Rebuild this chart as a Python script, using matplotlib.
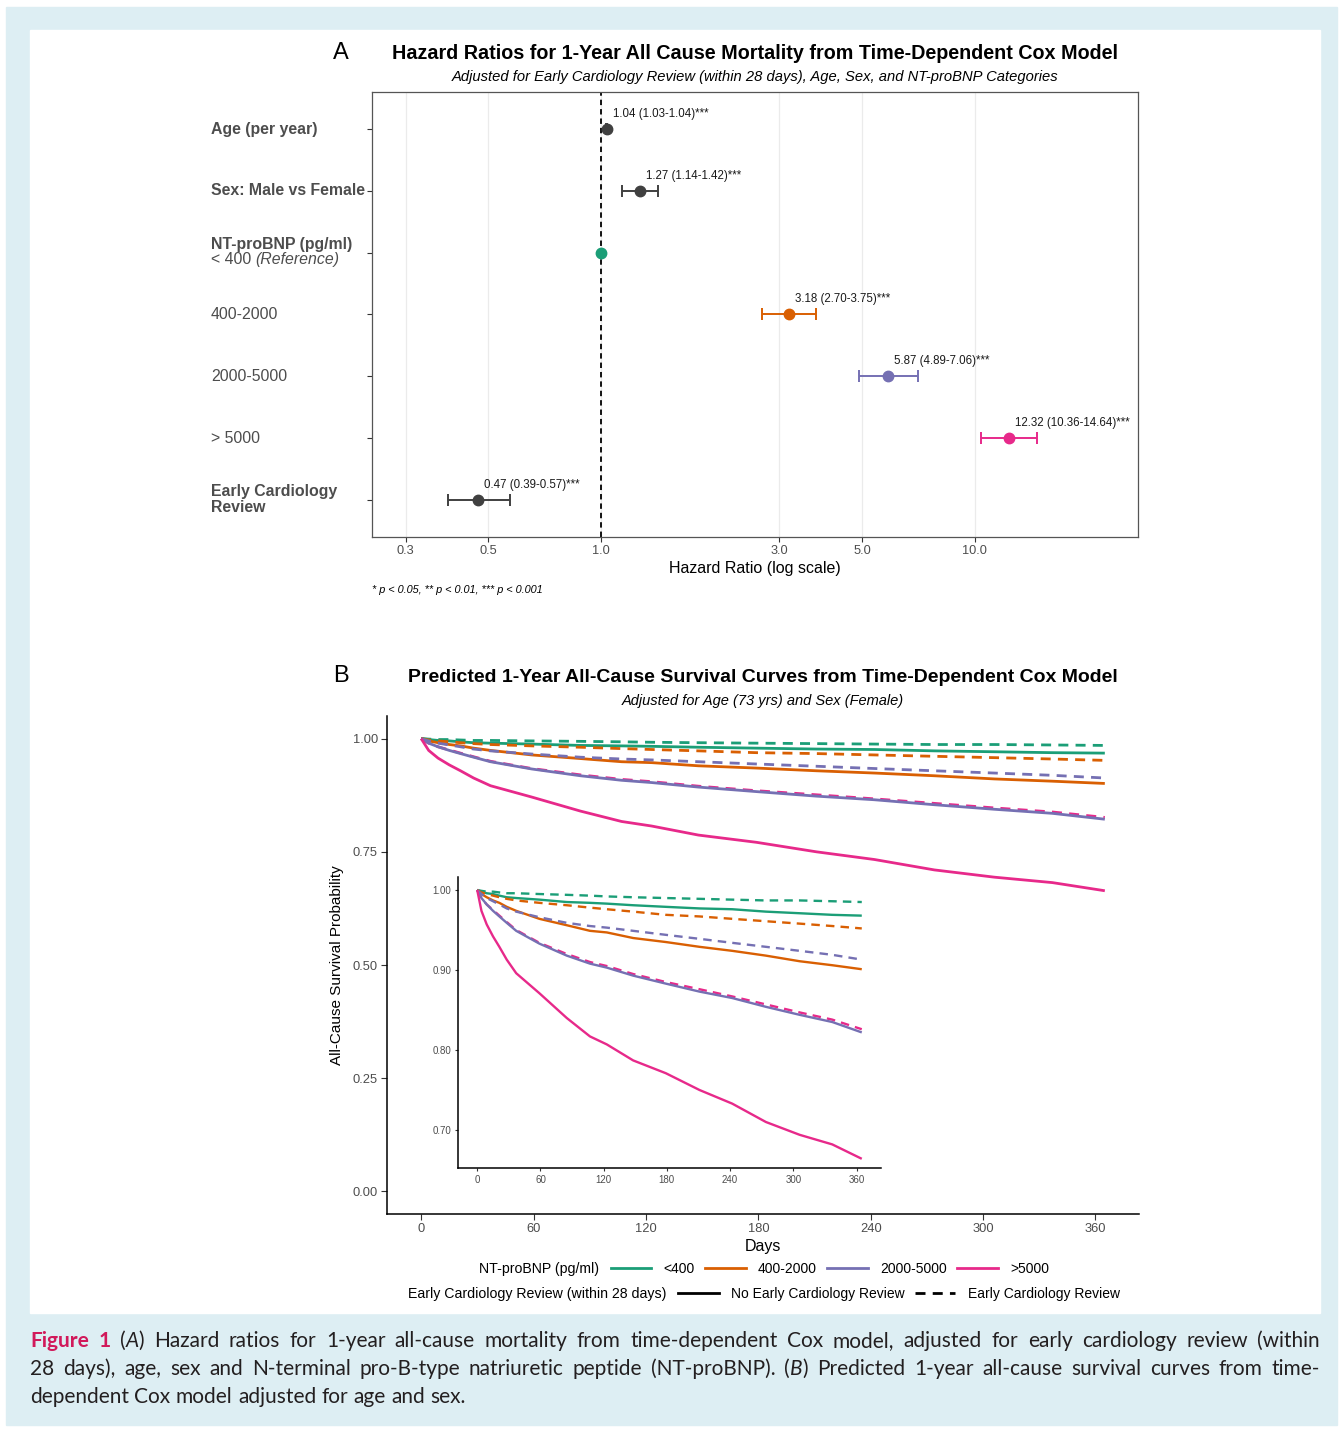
import numpy as np
import matplotlib
matplotlib.use('Agg')
import matplotlib.pyplot as plt
import matplotlib.transforms as mtransforms
from matplotlib.lines import Line2D
from matplotlib.patches import Rectangle

W, H = 1343, 1430
plt.rcParams['font.family'] = ['Liberation Sans', 'DejaVu Sans']

# ---- Panel A: hazard ratios ----
row_labels = ['Age (per year)', 'Sex: Male vs Female', 'NT-proBNP (pg/ml)\n< 400',
              '400-2000', '2000-5000', '> 5000', 'Early Cardiology\nReview']
hr_est = [1.04, 1.27, 1.00, 3.18, 5.87, 12.32, 0.47]
hr_low = [1.03, 1.14, 1.00, 2.70, 4.89, 10.36, 0.39]
hr_high = [1.04, 1.42, 1.00, 3.75, 7.06, 14.64, 0.57]
hr_text = ['1.04 (1.03-1.04)***', '1.27 (1.14-1.42)***', '', '3.18 (2.70-3.75)***',
           '5.87 (4.89-7.06)***', '12.32 (10.36-14.64)***', '0.47 (0.39-0.57)***']
hr_ticks = [0.3, 0.5, 1.0, 3.0, 5.0, 10.0]

# ---- Panel B: predicted survival ----
days = [0, 4, 9, 15, 21, 28, 37, 59, 85, 107, 123, 148, 179, 211, 242, 274, 306, 337, 365]
surv = {
    ('<400', 'no'):      [1.0, 0.998, 0.996, 0.995, 0.993, 0.991, 0.990, 0.988, 0.985, 0.984, 0.983, 0.981, 0.979, 0.977, 0.976, 0.973, 0.971, 0.969, 0.968],
    ('<400', 'yes'):     [1.0, 0.999, 0.998, 0.998, 0.997, 0.996, 0.996, 0.995, 0.994, 0.993, 0.992, 0.991, 0.990, 0.989, 0.988, 0.987, 0.987, 0.986, 0.985],
    ('400-2000', 'no'):  [1.0, 0.995, 0.991, 0.987, 0.984, 0.979, 0.974, 0.964, 0.956, 0.949, 0.947, 0.940, 0.935, 0.929, 0.924, 0.918, 0.911, 0.906, 0.901],
    ('400-2000', 'yes'): [1.0, 0.997, 0.995, 0.993, 0.991, 0.989, 0.987, 0.984, 0.981, 0.978, 0.976, 0.973, 0.969, 0.967, 0.964, 0.961, 0.958, 0.955, 0.952],
    ('2000-5000', 'no'): [1.0, 0.990, 0.982, 0.974, 0.967, 0.959, 0.949, 0.933, 0.918, 0.908, 0.903, 0.893, 0.883, 0.873, 0.865, 0.854, 0.844, 0.835, 0.822],
    ('2000-5000', 'yes'):[1.0, 0.995, 0.990, 0.986, 0.982, 0.977, 0.973, 0.966, 0.959, 0.955, 0.953, 0.949, 0.944, 0.939, 0.934, 0.929, 0.924, 0.919, 0.913],
    ('>5000', 'no'):     [1.0, 0.974, 0.957, 0.942, 0.929, 0.913, 0.896, 0.871, 0.840, 0.817, 0.807, 0.787, 0.771, 0.750, 0.733, 0.710, 0.694, 0.682, 0.664],
    ('>5000', 'yes'):    [1.0, 0.990, 0.982, 0.975, 0.968, 0.960, 0.950, 0.934, 0.920, 0.910, 0.905, 0.895, 0.885, 0.876, 0.867, 0.857, 0.847, 0.838, 0.826],
}
bnp_groups = ['<400', '400-2000', '2000-5000', '>5000']
review_labels = ['No Early Cardiology Review', 'Early Cardiology Review']

bnp_colors = {'<400': '#1B9E77', '400-2000': '#D95F02', '2000-5000': '#7570B3', '>5000': '#E7298A'}
term_colors = ['#404040', '#404040', '#1B9E77', '#D95F02', '#7570B3', '#E7298A', '#404040']
DASH = (0, (3.6, 2.6))
GREY = '#4D4D4D'


def fx(px):
    return px / W


def fy(py):
    return 1 - py / H


fig = plt.figure(figsize=(W / 100, H / 100), dpi=100)
fig.patches.append(Rectangle((fx(6), fy(1425)), fx(1337) - fx(6), fy(7) - fy(1425),
                             transform=fig.transFigure, color='#DDEEF3', zorder=-10))
fig.patches.append(Rectangle((fx(30), fy(1313)), fx(1320) - fx(30), fy(30) - fy(1313),
                             transform=fig.transFigure, color='white', zorder=-9))
renderer = fig.canvas.get_renderer()
ident = mtransforms.IdentityTransform()

# ================= Panel A =================
axA = fig.add_axes([fx(372), fy(537), (1138 - 372) / W, (537 - 92) / H])
axA.set_xscale('log')
axA.set_xlim(0.244, 27.3)
ypos = np.arange(len(row_labels), 0, -1)
axA.set_ylim(0.4, len(row_labels) + 0.6)
for t in hr_ticks:
    axA.axvline(t, color='#EBEBEB', lw=0.9, zorder=0)
axA.axvline(1.0, color='black', ls=(0, (3, 2.2)), lw=1.3, zorder=1)

for i in range(len(row_labels)):
    c = term_colors[i]
    if hr_high[i] > hr_low[i]:
        axA.errorbar(hr_est[i], ypos[i],
                     xerr=[[hr_est[i] - hr_low[i]], [hr_high[i] - hr_est[i]]],
                     fmt='none', ecolor=c, elinewidth=1.4, capsize=4.5, capthick=1.4, zorder=2)
    axA.plot(hr_est[i], ypos[i], 'o', color=c, ms=7.5, zorder=3)
    if hr_text[i]:
        axA.annotate(hr_text[i], (hr_est[i], ypos[i]), xytext=(4.2, 6.5),
                     textcoords='offset points', ha='left', va='bottom',
                     fontsize=8.3, color='#1A1A1A')

axA.set_xticks(hr_ticks)
axA.set_xticklabels(['%.1f' % t for t in hr_ticks])
axA.minorticks_off()
axA.set_yticks(ypos)
axA.set_yticklabels([''] * len(ypos))
axA.tick_params(axis='both', length=3.5, width=0.8, color='#333333', labelcolor=GREY,
                labelsize=9.2, pad=2.5)
for s in axA.spines.values():
    s.set_color('#555555')
    s.set_linewidth(0.9)
axA.set_xlabel('Hazard Ratio (log scale)', fontsize=11.5, labelpad=3)

# row labels, left aligned outside the panel
ytr = axA.get_yaxis_transform()
lab_x = (211 - 372) / (1138 - 372)
for i, lab in enumerate(row_labels):
    lines = lab.split('\n')
    offs = [0.0] if len(lines) == 1 else [0.135, -0.115]
    for j, (ln, off) in enumerate(zip(lines, offs)):
        bold = i in (0, 1, 6) or (i == 2 and j == 0)
        t = axA.text(lab_x, ypos[i] + off, ln, transform=ytr, ha='left', va='center',
                     fontsize=11.4, color=GREY, fontweight='bold' if bold else 'normal')
        if i == 2 and j == 1:
            axA.annotate('(Reference)', xy=(1, 0.5), xycoords=t, xytext=(3, 0),
                         textcoords='offset points', ha='left', va='center',
                         fontsize=11.4, color=GREY, style='italic')

fig.text(fx(333), fy(59), 'A', fontsize=17, ha='left', va='baseline')
fig.text(fx(755), fy(59), 'Hazard Ratios for 1-Year All Cause Mortality from Time-Dependent Cox Model',
         fontsize=14.2, fontweight='bold', ha='center', va='baseline')
fig.text(fx(755), fy(81), 'Adjusted for Early Cardiology Review (within 28 days), Age, Sex, and NT-proBNP Categories',
         fontsize=10.6, style='italic', ha='center', va='baseline')
fig.text(fx(372), fy(593), '* p < 0.05, ** p < 0.01, *** p < 0.001',
         fontsize=7.8, style='italic', ha='left', va='baseline')

# ================= Panel B =================
axB = fig.add_axes([fx(387), fy(1214), (1139 - 387) / W, (1214 - 716) / H])
axIn = fig.add_axes([fx(458), fy(1168), (881 - 458) / W, (1168 - 877) / H])


def draw_curves(ax, lw):
    order = [('<400', 'no'), ('<400', 'yes'), ('400-2000', 'no'), ('400-2000', 'yes'),
             ('>5000', 'yes'), ('2000-5000', 'no'), ('2000-5000', 'yes'), ('>5000', 'no')]
    for g, r in order:
        ax.plot(days, surv[(g, r)], color=bnp_colors[g], lw=lw,
                ls=DASH if r == 'yes' else '-', solid_capstyle='butt')


draw_curves(axB, 2.0)
axB.set_xlim(-18.25, 383.25)
axB.set_ylim(-0.05, 1.05)
axB.set_xticks(range(0, 361, 60))
axB.set_yticks([0, 0.25, 0.5, 0.75, 1.0])
axB.set_yticklabels(['0.00', '0.25', '0.50', '0.75', '1.00'])
axB.set_xlabel('Days', fontsize=11.5, labelpad=3)
axB.set_ylabel('All-Cause Survival Probability', fontsize=11, labelpad=6)

draw_curves(axIn, 1.7)
axIn.set_xlim(-18.25, 383.25)
axIn.set_ylim(0.6525, 1.0163)
axIn.set_xticks(range(0, 361, 60))
axIn.set_yticks([0.7, 0.8, 0.9, 1.0])
axIn.set_yticklabels(['0.70', '0.80', '0.90', '1.00'])
axIn.set_facecolor('none')

for ax, sz, ln in ((axB, 9.3, 4), (axIn, 7, 2.5)):
    ax.spines['top'].set_visible(False)
    ax.spines['right'].set_visible(False)
    for s in ('left', 'bottom'):
        ax.spines[s].set_linewidth(1.1)
        ax.spines[s].set_color('black')
    ax.tick_params(length=ln, width=0.8, color='#333333', labelcolor=GREY,
                   labelsize=sz, pad=2.5)

fig.text(fx(333), fy(682), 'B', fontsize=17, ha='left', va='baseline')
fig.text(fx(763), fy(682), 'Predicted 1-Year All-Cause Survival Curves from Time-Dependent Cox Model',
         fontsize=14.0, fontweight='bold', ha='center', va='baseline')
fig.text(fx(763), fy(705), 'Adjusted for Age (73 yrs) and Sex (Female)',
         fontsize=10.5, style='italic', ha='center', va='baseline')


# legend rows: title text on the left, keys to its right, row centred
def side_legend(handles, labels, title, ypix, sep=12):
    leg = fig.legend(handles, labels, ncol=len(handles), loc='center left',
                     bbox_to_anchor=(0, fy(ypix)), frameon=False,
                     fontsize=10, handlelength=2.9, handletextpad=0.9,
                     columnspacing=0.75, borderpad=0, borderaxespad=0)
    tt = fig.text(0, fy(ypix), title, fontsize=10.2, ha='left', va='center')
    wl = leg.get_window_extent(renderer).width
    wt = tt.get_window_extent(renderer).width
    x0 = 764 - (wt + sep + wl) / 2
    tt.set_x(fx(x0))
    leg.set_bbox_to_anchor((fx(x0 + wt + sep), fy(ypix)), transform=fig.transFigure)
    return leg


side_legend([Line2D([], [], color=bnp_colors[g], lw=2) for g in bnp_groups],
            bnp_groups, 'NT-proBNP (pg/ml)', 1269)
side_legend([Line2D([], [], color='black', lw=2, ls='-'),
             Line2D([], [], color='black', lw=2, ls=DASH)],
            review_labels, 'Early Cardiology Review (within 28 days)', 1294)

# ================= Caption =================
CAP_FONT = ['Lato', 'DejaVu Sans']
CAP_SIZE = 15
RED = '#D1195A'
INK = '#231F20'


def seg(txt, **kw):
    return (txt, kw)


cap_lines = [
    [[seg('Figure', color=RED, weight='bold')], [seg('1', color=RED, weight='bold')],
     [seg('('), seg('A', style='italic'), seg(')')]]
    + [[seg(w)] for w in 'Hazard ratios for 1-year all-cause mortality from time-dependent Cox model, adjusted for early cardiology review (within'.split()],
    [[seg(w)] for w in '28 days), age, sex and N-terminal pro-B-type natriuretic peptide (NT-proBNP).'.split()]
    + [[seg('('), seg('B', style='italic'), seg(')')]]
    + [[seg(w)] for w in 'Predicted 1-year all-cause survival curves from time-'.split()],
    [[seg(w)] for w in 'dependent Cox model adjusted for age and sex.'.split()],
]
cap_base = [1347, 1375, 1403]

for li, words in enumerate(cap_lines):
    ybase = H - cap_base[li]
    arts = []
    widths = []
    for w in words:
        parts = []
        wsum = 0
        for txt, kw in w:
            kw2 = dict(color=INK, fontsize=CAP_SIZE, family=CAP_FONT)
            kw2.update(kw)
            t = fig.text(0, ybase, txt, transform=ident, ha='left', va='baseline', **kw2)
            wd = t.get_window_extent(renderer).width
            parts.append((t, wd))
            wsum += wd
        arts.append(parts)
        widths.append(wsum)
    if li < len(cap_lines) - 1:
        gap = (1320 - 30 - sum(widths)) / (len(words) - 1)
    else:
        sp = fig.text(0, 0, 'a a', fontsize=CAP_SIZE, family=CAP_FONT, transform=ident)
        sp2 = fig.text(0, 0, 'aa', fontsize=CAP_SIZE, family=CAP_FONT, transform=ident)
        gap = sp.get_window_extent(renderer).width - sp2.get_window_extent(renderer).width
        sp.remove()
        sp2.remove()
    x = 30
    for parts, wsum in zip(arts, widths):
        for t, wd in parts:
            t.set_x(x)
            x += wd
        x += gap

fig.savefig('out.png', dpi=100)
